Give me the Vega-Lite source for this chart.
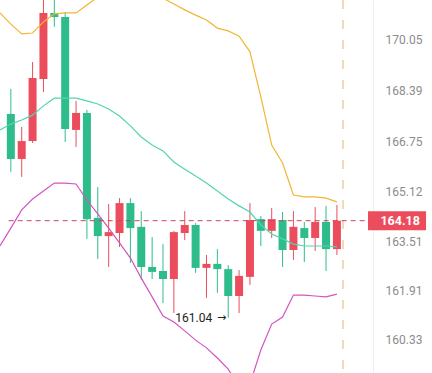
{
  "$schema": "https://vega.github.io/schema/vega-lite/v6.json",
  "width": 373,
  "height": 373,
  "autosize": "none",
  "padding": {"left": 0, "top": 0, "right": 59, "bottom": 0},
  "background": "#ffffff",
  "config": {"view": {"stroke": null}, "font": "Roboto"},
  "datasets": {
    "candles": [
      {"i": 1, "open": 167.64, "close": 166.18, "high": 168.45, "low": 165.76},
      {"i": 2, "open": 166.18, "close": 166.76, "high": 167.22, "low": 165.60},
      {"i": 3, "open": 166.76, "close": 168.80, "high": 169.32, "low": 166.70},
      {"i": 4, "open": 168.77, "close": 170.91, "high": 171.59, "low": 168.35},
      {"i": 5, "open": 170.91, "close": 170.78, "high": 171.43, "low": 170.46},
      {"i": 6, "open": 170.78, "close": 167.15, "high": 170.94, "low": 166.73},
      {"i": 7, "open": 167.12, "close": 167.67, "high": 168.06, "low": 166.57},
      {"i": 8, "open": 167.67, "close": 164.23, "high": 167.77, "low": 163.59},
      {"i": 9, "open": 164.27, "close": 163.68, "high": 165.27, "low": 162.94},
      {"i": 10, "open": 163.68, "close": 163.81, "high": 164.72, "low": 162.68},
      {"i": 11, "open": 163.78, "close": 164.75, "high": 164.91, "low": 163.33},
      {"i": 12, "open": 164.75, "close": 163.94, "high": 164.91, "low": 162.81},
      {"i": 13, "open": 163.98, "close": 162.68, "high": 164.49, "low": 162.26},
      {"i": 14, "open": 162.68, "close": 162.52, "high": 163.65, "low": 162.29},
      {"i": 15, "open": 162.55, "close": 162.29, "high": 163.42, "low": 161.51},
      {"i": 16, "open": 162.29, "close": 163.81, "high": 163.85, "low": 161.19},
      {"i": 17, "open": 163.78, "close": 164.04, "high": 164.49, "low": 163.55},
      {"i": 18, "open": 164.04, "close": 162.65, "high": 164.10, "low": 162.49},
      {"i": 19, "open": 162.65, "close": 162.78, "high": 163.07, "low": 161.68},
      {"i": 20, "open": 162.78, "close": 162.61, "high": 163.26, "low": 161.84},
      {"i": 21, "open": 162.61, "close": 161.74, "high": 162.74, "low": 161.04},
      {"i": 22, "open": 161.74, "close": 162.39, "high": 162.58, "low": 161.19},
      {"i": 23, "open": 162.36, "close": 164.20, "high": 164.75, "low": 162.10},
      {"i": 24, "open": 164.23, "close": 163.85, "high": 164.33, "low": 163.36},
      {"i": 25, "open": 163.85, "close": 164.23, "high": 164.59, "low": 163.62},
      {"i": 26, "open": 164.20, "close": 163.23, "high": 164.46, "low": 162.68},
      {"i": 27, "open": 163.23, "close": 163.98, "high": 164.49, "low": 162.91},
      {"i": 28, "open": 163.94, "close": 163.62, "high": 164.14, "low": 162.84},
      {"i": 29, "open": 163.62, "close": 164.14, "high": 164.62, "low": 163.20},
      {"i": 30, "open": 164.14, "close": 163.26, "high": 164.66, "low": 162.55},
      {"i": 31, "open": 163.26, "close": 164.18, "high": 164.69, "low": 163.07}
    ],
    "bands": [
      {"i": 0, "upper": 170.91, "middle": 167.12, "lower": 163.36},
      {"i": 1, "upper": 170.55, "middle": 167.31, "lower": 163.94},
      {"i": 2, "upper": 170.23, "middle": 167.44, "lower": 164.53},
      {"i": 3, "upper": 170.26, "middle": 167.60, "lower": 164.88},
      {"i": 4, "upper": 170.62, "middle": 167.90, "lower": 165.14},
      {"i": 5, "upper": 170.88, "middle": 168.15, "lower": 165.40},
      {"i": 6, "upper": 170.91, "middle": 168.15, "lower": 165.40},
      {"i": 7, "upper": 170.91, "middle": 168.15, "lower": 165.37},
      {"i": 8, "upper": 171.17, "middle": 168.06, "lower": 164.85},
      {"i": 9, "upper": 171.43, "middle": 167.96, "lower": 164.40},
      {"i": 10, "upper": 171.59, "middle": 167.80, "lower": 163.94},
      {"i": 11, "upper": 171.65, "middle": 167.57, "lower": 163.46},
      {"i": 12, "upper": 171.65, "middle": 167.25, "lower": 162.97},
      {"i": 13, "upper": 171.59, "middle": 166.89, "lower": 162.32},
      {"i": 14, "upper": 171.49, "middle": 166.63, "lower": 161.71},
      {"i": 15, "upper": 171.39, "middle": 166.44, "lower": 161.09},
      {"i": 16, "upper": 171.20, "middle": 166.08, "lower": 160.90},
      {"i": 17, "upper": 171.01, "middle": 165.85, "lower": 160.61},
      {"i": 18, "upper": 170.84, "middle": 165.63, "lower": 160.31},
      {"i": 19, "upper": 170.68, "middle": 165.40, "lower": 160.06},
      {"i": 20, "upper": 170.42, "middle": 165.14, "lower": 159.73},
      {"i": 21, "upper": 170.33, "middle": 164.88, "lower": 159.37},
      {"i": 22, "upper": 170.16, "middle": 164.66, "lower": 158.80},
      {"i": 23, "upper": 169.65, "middle": 164.46, "lower": 158.89},
      {"i": 24, "upper": 168.19, "middle": 164.04, "lower": 159.99},
      {"i": 25, "upper": 166.63, "middle": 163.75, "lower": 160.83},
      {"i": 26, "upper": 166.05, "middle": 163.59, "lower": 161.06},
      {"i": 27, "upper": 165.01, "middle": 163.42, "lower": 161.77},
      {"i": 28, "upper": 164.95, "middle": 163.36, "lower": 161.77},
      {"i": 29, "upper": 164.95, "middle": 163.36, "lower": 161.74},
      {"i": 30, "upper": 164.91, "middle": 163.36, "lower": 161.71},
      {"i": 31, "upper": 164.79, "middle": 163.33, "lower": 161.80}
    ],
    "lastprice": [{"price": 164.18, "label": "164.18"}],
    "lowmark": [{"i": 21, "low": 161.04, "label": "161.04", "arrow": "→"}]
  },
  "data": {"name": "candles"},
  "layer": [
    {
      "mark": {"type": "rule", "color": "#eedcb6", "strokeDash": [9, 11], "strokeWidth": 1},
      "encoding": {"x": {"datum": 31.53, "type": "quantitative", "scale": {"domain": [0.463, 33.86], "nice": false, "zero": false}, "axis": null}}
    },
    {
      "mark": {"type": "rule", "strokeWidth": 1},
      "encoding": {
        "x": {"field": "i", "type": "quantitative"},
        "y": {"field": "low", "type": "quantitative", "scale": {"domain": [159.245, 171.33], "nice": false, "zero": false},
          "axis": {"orient": "right", "values": [170.05, 168.39, 166.75, 165.12, 163.51, 161.91, 160.33], "format": ".2f", "title": null, "ticks": false, "grid": false, "domain": true, "domainColor": "#eeeeee", "labelColor": "#8c8c8c", "labelFontSize": 12, "labelFont": "Roboto", "labelPadding": 12, "labelAlign": "left"}},
        "y2": {"field": "high"},
        "color": {"condition": {"test": "datum.close > datum.open", "value": "#ec4d5c"}, "value": "#2ebd8a"}
      }
    },
    {
      "mark": {"type": "bar", "width": 8},
      "encoding": {
        "x": {"field": "i", "type": "quantitative"},
        "y": {"field": "open", "type": "quantitative"},
        "y2": {"field": "close"},
        "color": {"condition": {"test": "datum.close > datum.open", "value": "#ec4d5c"}, "value": "#2ebd8a"}
      }
    },
    {
      "data": {"name": "bands"},
      "mark": {"type": "line", "color": "#f2b630", "strokeWidth": 1.2, "clip": true},
      "encoding": {"x": {"field": "i", "type": "quantitative"}, "y": {"field": "upper", "type": "quantitative"}}
    },
    {
      "data": {"name": "bands"},
      "mark": {"type": "line", "color": "#52d4b2", "strokeWidth": 1.2, "clip": true},
      "encoding": {"x": {"field": "i", "type": "quantitative"}, "y": {"field": "middle", "type": "quantitative"}}
    },
    {
      "data": {"name": "bands"},
      "mark": {"type": "line", "color": "#d454c0", "strokeWidth": 1.2, "clip": true},
      "encoding": {"x": {"field": "i", "type": "quantitative"}, "y": {"field": "lower", "type": "quantitative"}}
    },
    {
      "data": {"name": "lastprice"},
      "mark": {"type": "rule", "color": "#cc4460", "strokeDash": [5, 4], "strokeWidth": 1},
      "encoding": {"x": {"datum": 0.8, "type": "quantitative"}, "x2": {"datum": 33.86}, "y": {"field": "price", "type": "quantitative"}}
    },
    {
      "data": {"name": "lastprice"},
      "mark": {"type": "rect", "color": "#ec4d5c", "clip": false, "height": 19},
      "encoding": {"x": {"datum": 33.86, "type": "quantitative"}, "x2": {"datum": 39.2}, "y": {"field": "price", "type": "quantitative"}}
    },
    {
      "data": {"name": "lastprice"},
      "mark": {"type": "text", "color": "#ffffff", "fontWeight": "bold", "fontSize": 12.5, "font": "Roboto", "align": "left", "baseline": "middle", "clip": false},
      "encoding": {"x": {"datum": 35.0, "type": "quantitative"}, "y": {"field": "price", "type": "quantitative"}, "text": {"field": "label"}}
    },
    {
      "data": {"name": "lowmark"},
      "mark": {"type": "text", "color": "#222222", "fontSize": 12, "font": "Roboto", "align": "right", "baseline": "middle", "dx": -16},
      "encoding": {"x": {"field": "i", "type": "quantitative"}, "y": {"field": "low", "type": "quantitative"}, "text": {"field": "label"}}
    },
    {
      "data": {"name": "lowmark"},
      "mark": {"type": "text", "color": "#222222", "fontSize": 11, "font": "DejaVu Sans", "align": "right", "baseline": "middle", "dx": -2},
      "encoding": {"x": {"field": "i", "type": "quantitative"}, "y": {"field": "low", "type": "quantitative"}, "text": {"field": "arrow"}}
    }
  ]
}
